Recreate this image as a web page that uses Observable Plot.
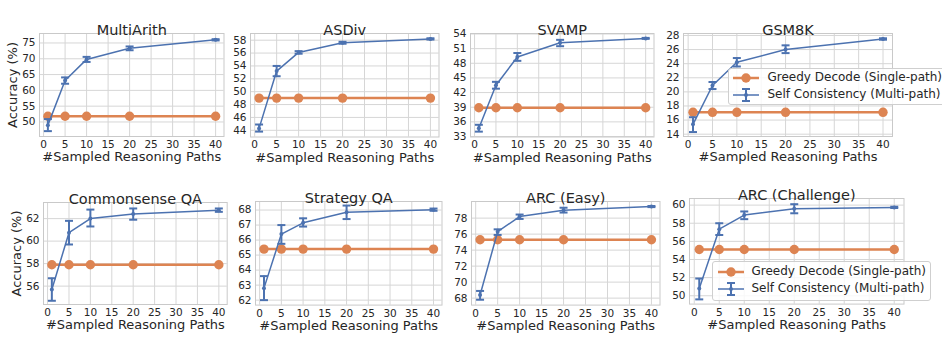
<!DOCTYPE html>
<html>
<head>
<meta charset="utf-8">
<script src="https://cdn.jsdelivr.net/npm/d3@7"></script>
<script src="https://cdn.jsdelivr.net/npm/@observablehq/plot@0.6"></script>
<style>
  body { margin: 0; background: #fff; }
  #chart { position: relative; width: 942px; height: 350px; overflow: hidden; background: #fff; font-family: "DejaVu Sans", sans-serif; color: #262626; }
  #chart svg { position: absolute; overflow: visible; }
  .legend { position: absolute; border: 1px solid #cfcfcf; border-radius: 3px; background: rgba(255,255,255,0.82); box-sizing: border-box; }
  .legend .row { position: absolute; left: 0; height: 16px; white-space: nowrap; }
  .legend .row svg { position: absolute; top: 0; }
  .legend .row span { position: absolute; top: -1px; font-size: 12px; line-height: 16px; color: #262626; }
</style>
</head>
<body>
<div id="chart"></div>
<script>
// ---------- data ----------
const paths = [1, 5, 10, 20, 40];
const datasets = ["MultiArith", "ASDiv", "SVAMP", "GSM8K", "Commonsense QA", "Strategy QA", "ARC (Easy)", "ARC (Challenge)"];
const greedy = [51.8, 49.0, 38.9, 17.1, 57.9, 65.4, 75.3, 55.1];
const scMean = [
  [49.0, 63.1, 69.8, 73.3, 76.0],
  [44.3, 53.2, 56.1, 57.6, 58.2],
  [34.7, 43.5, 49.3, 52.2, 53.1],
  [15.4, 20.9, 24.2, 26.0, 27.5],
  [55.7, 60.75, 62.0, 62.4, 62.75],
  [62.8, 66.4, 67.15, 67.85, 68.02],
  [68.4, 76.3, 78.2, 79.0, 79.45],
  [50.8, 57.35, 58.9, 59.6, 59.75]
];
const scLow = [
  [47.1, 62.1, 69.0, 72.7, 75.8],
  [43.8, 52.4, 55.9, 57.45, 58.1],
  [34.0, 42.8, 48.5, 51.5, 53.0],
  [14.3, 20.4, 23.6, 25.5, 27.4],
  [54.7, 59.7, 61.3, 61.9, 62.6],
  [62.0, 65.75, 66.9, 67.4, 67.95],
  [67.8, 75.9, 77.9, 78.7, 79.38],
  [49.6, 56.7, 58.45, 59.1, 59.68]
];
const scHigh = [
  [50.9, 64.1, 70.6, 73.9, 76.2],
  [44.9, 54.0, 56.3, 57.75, 58.3],
  [35.4, 44.2, 50.1, 52.8, 53.2],
  [16.4, 21.4, 24.8, 26.6, 27.6],
  [56.7, 61.8, 62.8, 62.9, 62.9],
  [63.6, 67.0, 67.45, 68.3, 68.1],
  [68.9, 76.6, 78.45, 79.3, 79.52],
  [51.9, 58.0, 59.3, 60.1, 59.82]
];
const xTicks = [0, 5, 10, 15, 20, 25, 30, 35, 40];
const yTicks = [
  [50, 55, 60, 65, 70, 75],
  [44, 46, 48, 50, 52, 54, 56, 58],
  [33, 36, 39, 42, 45, 48, 51, 54],
  [14, 16, 18, 20, 22, 24, 26, 28],
  [56, 58, 60, 62],
  [62, 63, 64, 65, 66, 67, 68],
  [68, 70, 72, 74, 76, 78],
  [50, 52, 54, 56, 58, 60]
];
const yDomains = [
  [45.4, 78.0], [42.96, 59.04], [32.9, 54.1], [13.67, 28.28],
  [54.37, 63.43], [61.67, 68.57], [67.13, 80.08], [49.08, 60.73]
];
const xDomain = [-0.95, 41.95];
const xLabel = "#Sampled Reasoning Paths";
const yLabel = "Accuracy (%)";
const legendLabels = ["Greedy Decode (Single-path)", "Self Consistency (Multi-path)"];

// ---------- layout ----------
// frame boxes: [left, top, right, bottom]
const frames = [
  [38.5, 33, 223, 136],
  [250, 32.5, 438.5, 136],
  [470, 32.5, 653.5, 136],
  [682.5, 32.5, 891.5, 135.5],
  [42.8, 201.5, 226.5, 303.5],
  [254.5, 200.7, 441, 304.3],
  [470.8, 200.7, 659.3, 304.3],
  [688.5, 197.7, 903, 303.3]
];
const orange = "#dd8452";
const blue = "#4c72b0";
const gridColor = "#d6d6d6";
const frameColor = "#c9c9c9";
const M = {l: 42, r: 8, t: 34, b: 44};

const cap = {
  draw(context, size) {
    const w = Math.sqrt(size / Math.PI);
    context.moveTo(-w, 0);
    context.lineTo(w, 0);
  }
};

const chart = document.getElementById("chart");

datasets.forEach((name, i) => {
  const rows = paths.map((x, j) => ({
    x, greedy: greedy[i], sc: scMean[i][j], lo: scLow[i][j], hi: scHigh[i][j]
  }));
  const [L, T, R, B] = frames[i];
  const w = R - L, h = B - T;
  const marks = [
    Plot.gridX(xTicks, {stroke: gridColor, strokeOpacity: 1, strokeWidth: 1}),
    Plot.gridY(yTicks[i], {stroke: gridColor, strokeOpacity: 1, strokeWidth: 1}),
    Plot.frame({stroke: frameColor, strokeWidth: 1}),
    Plot.axisX(xTicks, {tickSize: 0, tickPadding: 4, fontSize: 10.5, label: null}),
    Plot.axisY(yTicks[i], {tickSize: 0, tickPadding: 4, fontSize: 10.5, label: null}),
    Plot.line(rows, {x: "x", y: "greedy", stroke: orange, strokeWidth: 2.5}),
    Plot.dot(rows, {x: "x", y: "greedy", r: 4.7, fill: orange, stroke: "none"}),
    Plot.line(rows, {x: "x", y: "sc", stroke: blue, strokeWidth: 1.5}),
    Plot.ruleX(rows, {x: "x", y1: "lo", y2: "hi", stroke: blue, strokeWidth: 2}),
    Plot.dot(rows, {x: "x", y: "lo", symbol: cap, r: 4, stroke: blue, strokeWidth: 2, fill: "none"}),
    Plot.dot(rows, {x: "x", y: "hi", symbol: cap, r: 4, stroke: blue, strokeWidth: 2, fill: "none"}),
    Plot.dot(rows, {x: "x", y: "sc", r: 2, fill: blue, stroke: "none"}),
    Plot.text([name], {frameAnchor: "top", text: d => d, dy: -9, fontSize: 14.5, fill: "#262626"}),
    Plot.text([xLabel], {frameAnchor: "bottom", text: d => d, dy: 24.5, fontSize: 13, fill: "#262626"})
  ];
  if (i % 4 === 0) {
    marks.push(Plot.text([yLabel], {frameAnchor: "left", text: d => d, rotate: -90, dx: -26.5, textAnchor: "middle", lineAnchor: "middle", fontSize: 13, fill: "#262626"}));
  }
  const svg = Plot.plot({
    width: w + M.l + M.r,
    height: h + M.t + M.b,
    marginLeft: M.l, marginRight: M.r, marginTop: M.t, marginBottom: M.b,
    x: {domain: xDomain},
    y: {domain: yDomains[i]},
    style: {fontFamily: "DejaVu Sans", color: "#262626", background: "transparent", overflow: "visible"},
    marks
  });
  svg.style.left = (L - M.l) + "px";
  svg.style.top = (T - M.t) + "px";
  chart.appendChild(svg);
});

// ---------- legends ----------
function iconGreedy() {
  return `<svg width="26" height="16" viewBox="0 0 26 16"><line x1="0" y1="8" x2="26" y2="8" stroke="${orange}" stroke-width="2.5"/><circle cx="13" cy="8" r="4.7" fill="${orange}"/></svg>`;
}
function iconSC() {
  return `<svg width="26" height="16" viewBox="0 0 26 16"><line x1="0" y1="8" x2="26" y2="8" stroke="${blue}" stroke-width="1.5"/><line x1="13" y1="1.5" x2="13" y2="14.5" stroke="${blue}" stroke-width="2"/><line x1="9" y1="2" x2="17" y2="2" stroke="${blue}" stroke-width="2"/><line x1="9" y1="14" x2="17" y2="14" stroke="${blue}" stroke-width="2"/><circle cx="13" cy="8" r="2" fill="${blue}"/></svg>`;
}
function addLegend(left, top, width, height, rowTops, iconX, textX) {
  const div = document.createElement("div");
  div.className = "legend";
  Object.assign(div.style, {left: left + "px", top: top + "px", width: width + "px", height: height + "px"});
  const icons = [iconGreedy(), iconSC()];
  legendLabels.forEach((lab, k) => {
    const row = document.createElement("div");
    row.className = "row";
    row.style.top = rowTops[k] + "px";
    row.innerHTML = icons[k].replace("<svg ", `<svg style="left:${iconX}px" `) + `<span style="left:${textX}px">${lab}</span>`;
    div.appendChild(row);
  });
  chart.appendChild(div);
}
addLegend(728, 68, 222, 37, [0.7, 18.3], 3.5, 38.5);
addLegend(712, 261, 219, 40, [1.7, 19.3], 4.5, 38.5);
</script>
</body>
</html>
